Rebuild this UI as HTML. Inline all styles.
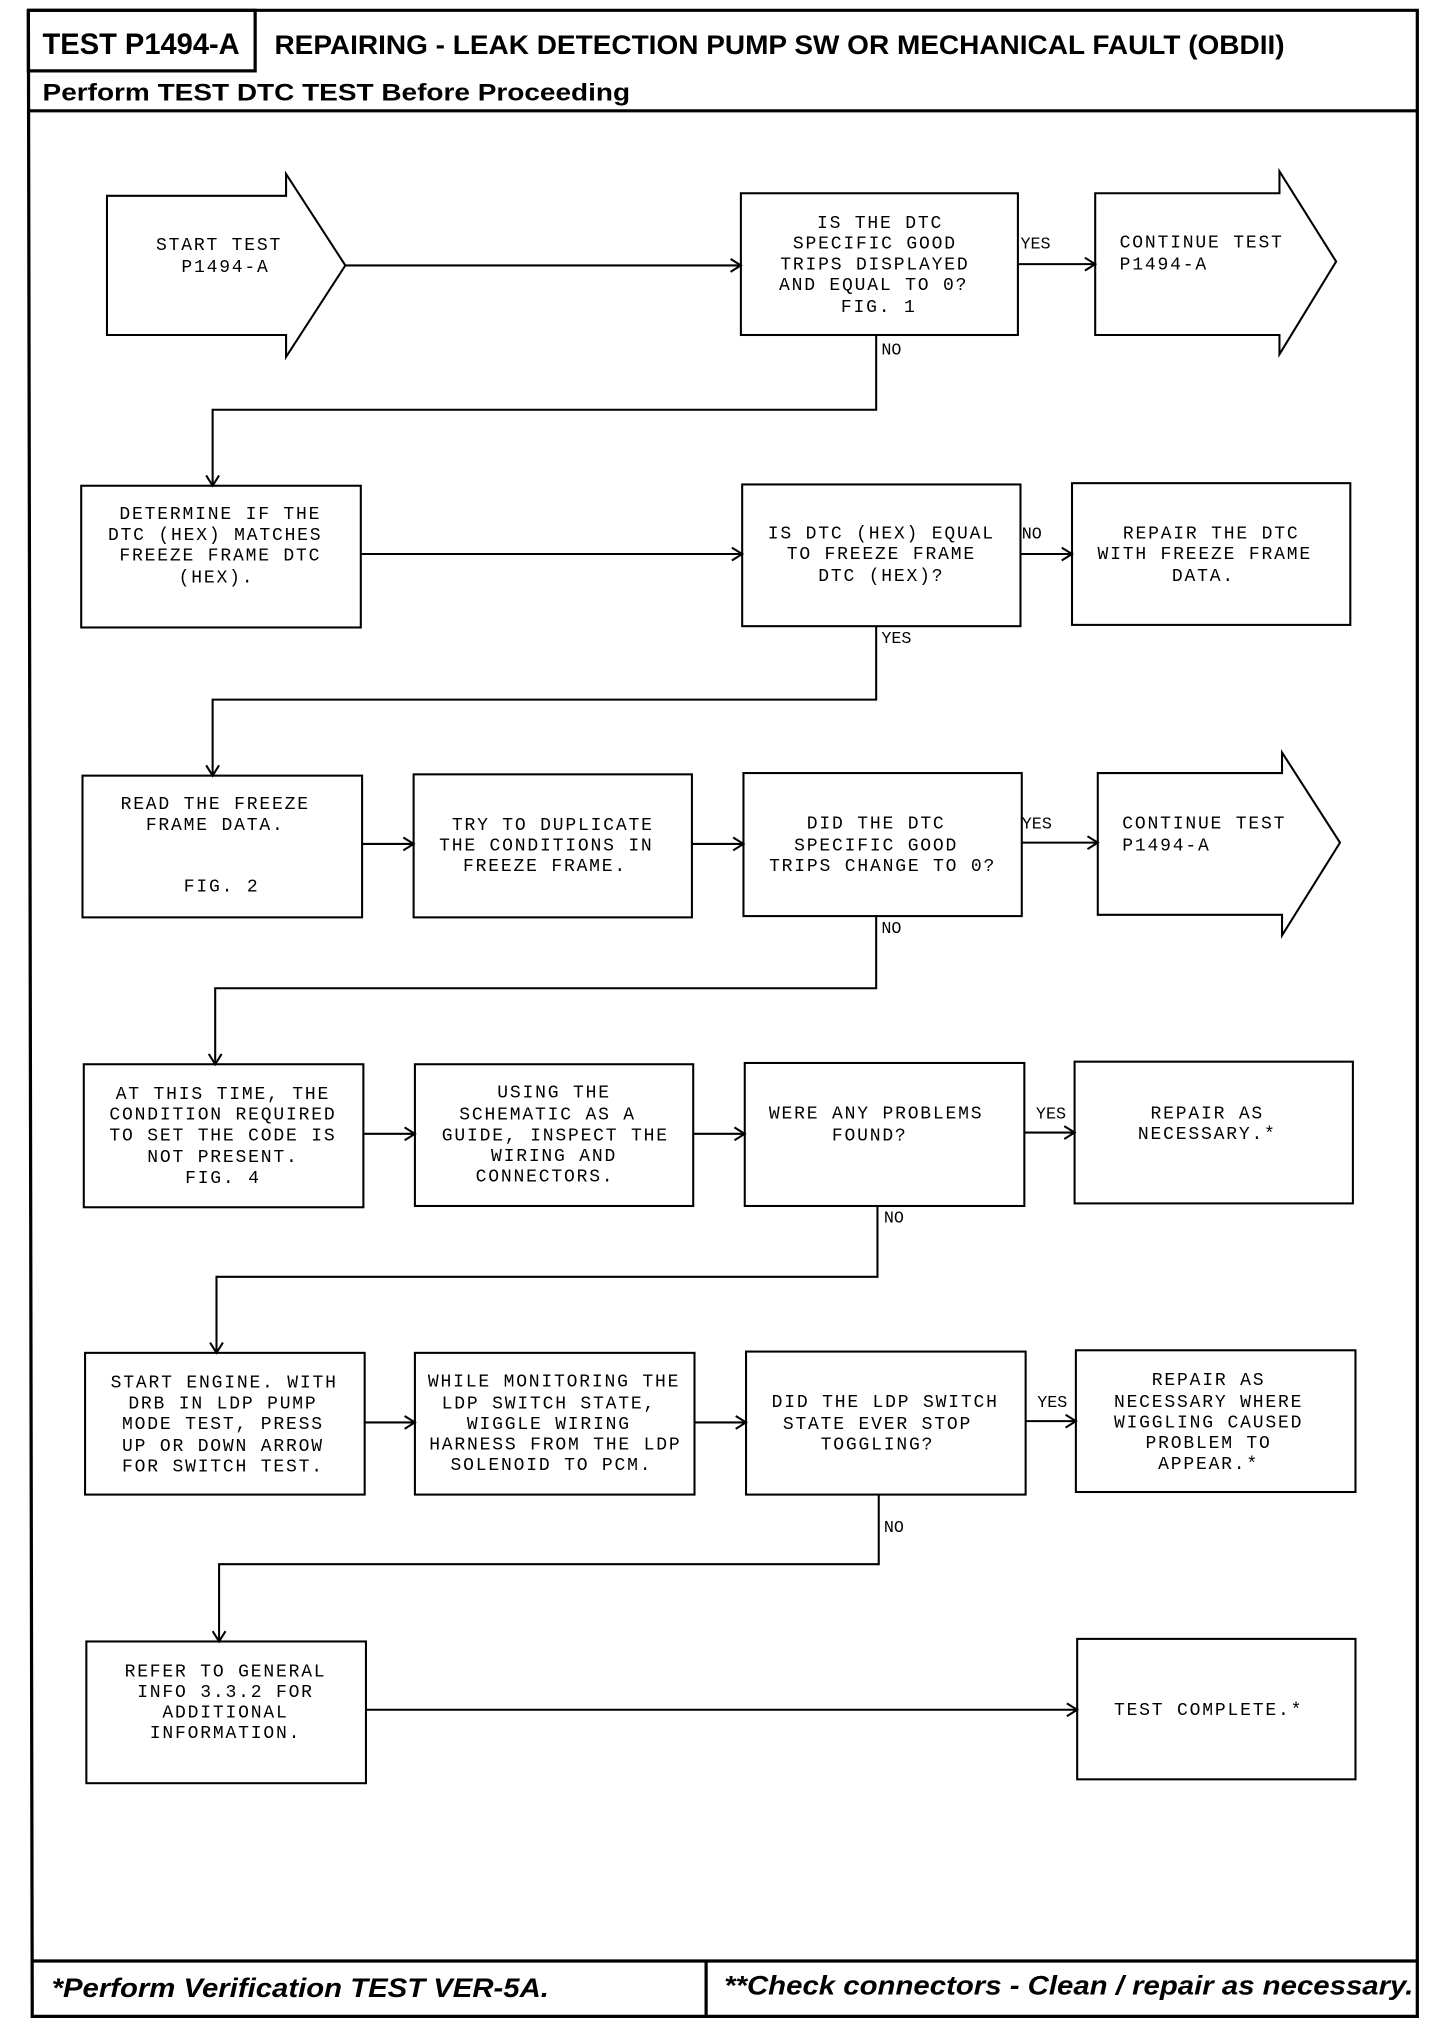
<!DOCTYPE html>
<html><head><meta charset="utf-8"><style>
html,body{margin:0;padding:0;background:#fff;}
svg{display:block;}
.m{font-family:"Liberation Mono",monospace;font-size:14px;fill:#000;letter-spacing:1.4px;}
.l{font-family:"Liberation Mono",monospace;font-size:13px;fill:#000;}
.b{fill:#fff;stroke:#000;stroke-width:1.6;}
.ln{fill:none;stroke:#000;stroke-width:1.6;}
.h{font-family:"Liberation Sans",sans-serif;font-weight:bold;fill:#000;}
</style></head><body>
<svg width="1456" height="2028" viewBox="0 0 1130 1574" xmlns="http://www.w3.org/2000/svg">
<rect x="0" y="0" width="1130" height="1574" fill="#fff"/>
<!-- frame -->
<g class="ln" style="stroke-width:2.5">
<polyline points="22,8 1100,8 1100,1565 25,1565 22,8"/>
<rect x="22" y="8" width="176" height="47"/>
<line x1="22" y1="86" x2="1100" y2="86"/>
<line x1="25" y1="1522" x2="1100" y2="1522"/>
<line x1="548" y1="1522" x2="548" y2="1565"/>
</g>
<text class="h" x="33" y="42" font-size="23" textLength="153" lengthAdjust="spacingAndGlyphs">TEST P1494-A</text>
<text class="h" x="213" y="42" font-size="21" textLength="784" lengthAdjust="spacingAndGlyphs">REPAIRING - LEAK DETECTION PUMP SW OR MECHANICAL FAULT (OBDII)</text>
<text class="h" x="33" y="78" font-size="19" textLength="456" lengthAdjust="spacingAndGlyphs">Perform TEST DTC TEST Before Proceeding</text>
<text class="h" x="40" y="1550" font-size="21" font-style="italic" textLength="386" lengthAdjust="spacingAndGlyphs">*Perform Verification TEST VER-5A.</text>
<text class="h" x="562" y="1548" font-size="21" font-style="italic" textLength="535" lengthAdjust="spacingAndGlyphs">**Check connectors - Clean / repair as necessary.</text>

<!-- big arrows -->
<polygon class="b" points="83,152 222,152 222,135 268,206 222,277 222,260 83,260"/>
<polygon class="b" points="850,150 993,150 993,133 1037,203 993,275 993,260 850,260"/>
<polygon class="b" points="852,600 995,600 995,584 1040,654 995,726 995,710 852,710"/>

<!-- boxes -->
<rect class="b" x="575" y="150" width="215" height="110"/>
<rect class="b" x="63" y="377" width="217" height="110"/>
<rect class="b" x="576" y="376" width="216" height="110"/>
<rect class="b" x="832" y="375" width="216" height="110"/>
<rect class="b" x="64" y="602" width="217" height="110"/>
<rect class="b" x="321" y="601" width="216" height="111"/>
<rect class="b" x="577" y="600" width="216" height="111"/>
<rect class="b" x="65" y="826" width="217" height="111"/>
<rect class="b" x="322" y="826" width="216" height="110"/>
<rect class="b" x="578" y="825" width="217" height="111"/>
<rect class="b" x="834" y="824" width="216" height="110"/>
<rect class="b" x="66" y="1050" width="217" height="110"/>
<rect class="b" x="322" y="1050" width="217" height="110"/>
<rect class="b" x="579" y="1049" width="217" height="111"/>
<rect class="b" x="835" y="1048" width="217" height="110"/>
<rect class="b" x="67" y="1274" width="217" height="110"/>
<rect class="b" x="836" y="1272" width="216" height="109"/>

<!-- connectors -->
<g class="ln">
<line x1="268" y1="206" x2="575" y2="206"/><polyline points="567,201 575,206 567,211"/>
<line x1="790" y1="205" x2="850" y2="205"/><polyline points="842,200 850,205 842,210"/>
<polyline points="680,260 680,318 165,318 165,377"/><polyline points="160,369 165,377 170,369"/>
<line x1="280" y1="430" x2="576" y2="430"/><polyline points="568,425 576,430 568,435"/>
<line x1="792" y1="430" x2="832" y2="430"/><polyline points="824,425 832,430 824,435"/>
<polyline points="680,486 680,543 165,543 165,602"/><polyline points="160,594 165,602 170,594"/>
<line x1="281" y1="655" x2="321" y2="655"/><polyline points="313,650 321,655 313,660"/>
<line x1="537" y1="655" x2="577" y2="655"/><polyline points="569,650 577,655 569,660"/>
<line x1="793" y1="654" x2="852" y2="654"/><polyline points="844,649 852,654 844,659"/>
<polyline points="680,711 680,767 167,767 167,826"/><polyline points="162,818 167,826 172,818"/>
<line x1="282" y1="880" x2="322" y2="880"/><polyline points="314,875 322,880 314,885"/>
<line x1="538" y1="880" x2="578" y2="880"/><polyline points="570,875 578,880 570,885"/>
<line x1="795" y1="879" x2="834" y2="879"/><polyline points="826,874 834,879 826,884"/>
<polyline points="681,936 681,991 168,991 168,1050"/><polyline points="163,1042 168,1050 173,1042"/>
<line x1="283" y1="1104" x2="322" y2="1104"/><polyline points="314,1099 322,1104 314,1109"/>
<line x1="539" y1="1104" x2="579" y2="1104"/><polyline points="571,1099 579,1104 571,1109"/>
<line x1="796" y1="1103" x2="835" y2="1103"/><polyline points="827,1098 835,1103 827,1108"/>
<polyline points="682,1160 682,1214 170,1214 170,1274"/><polyline points="165,1266 170,1274 175,1266"/>
<line x1="284" y1="1327" x2="836" y2="1327"/><polyline points="828,1322 836,1327 828,1332"/>
</g>

<!-- labels -->
<g class="l">
<text x="792" y="193">YES</text>
<text x="684" y="275">NO</text>
<text x="793" y="418">NO</text>
<text x="684" y="499">YES</text>
<text x="793" y="643">YES</text>
<text x="684" y="724">NO</text>
<text x="804" y="868">YES</text>
<text x="686" y="949">NO</text>
<text x="805" y="1092">YES</text>
<text x="686" y="1189">NO</text>
</g>

<!-- box texts -->
<g class="m" text-anchor="middle">
<text x="170" y="194">START TEST</text><text x="175" y="211">P1494-A</text>
<text x="683" y="177">IS THE DTC</text><text x="679" y="193">SPECIFIC GOOD</text><text x="679" y="209">TRIPS DISPLAYED</text><text x="678" y="225">AND EQUAL TO 0?</text><text x="682" y="242">FIG. 1</text>
<text x="171" y="403">DETERMINE IF THE</text><text x="167" y="419">DTC (HEX) MATCHES</text><text x="171" y="435">FREEZE FRAME DTC</text><text x="168" y="452">(HEX).</text>
<text x="684" y="418">IS DTC (HEX) EQUAL</text><text x="684" y="434">TO FREEZE FRAME</text><text x="684" y="451">DTC (HEX)?</text>
<text x="940" y="418">REPAIR THE DTC</text><text x="935" y="434">WITH FREEZE FRAME</text><text x="934" y="451">DATA.</text>
<text x="167" y="628">READ THE FREEZE</text><text x="167" y="644">FRAME DATA.</text><text x="172" y="692">FIG. 2</text>
<text x="429" y="644">TRY TO DUPLICATE</text><text x="424" y="660">THE CONDITIONS IN</text><text x="423" y="676">FREEZE FRAME.</text>
<text x="680" y="643">DID THE DTC</text><text x="680" y="660">SPECIFIC GOOD</text><text x="685" y="676">TRIPS CHANGE TO 0?</text>
<text x="173" y="853">AT THIS TIME, THE</text><text x="173" y="869">CONDITION REQUIRED</text><text x="173" y="885">TO SET THE CODE IS</text><text x="173" y="902">NOT PRESENT.</text><text x="173" y="918">FIG. 4</text>
<text x="430" y="852">USING THE</text><text x="425" y="869">SCHEMATIC AS A</text><text x="431" y="885">GUIDE, INSPECT THE</text><text x="430" y="901">WIRING AND</text><text x="423" y="917">CONNECTORS.</text>
<text x="680" y="868">WERE ANY PROBLEMS</text><text x="675" y="885">FOUND?</text>
<text x="937" y="868">REPAIR AS</text><text x="937" y="884">NECESSARY.*</text>
<text x="174" y="1077">START ENGINE. WITH</text><text x="173" y="1093">DRB IN LDP PUMP</text><text x="173" y="1109">MODE TEST, PRESS</text><text x="173" y="1126">UP OR DOWN ARROW</text><text x="173" y="1142">FOR SWITCH TEST.</text>
<text x="430" y="1076">WHILE MONITORING THE</text><text x="426" y="1093">LDP SWITCH STATE,</text><text x="426" y="1109">WIGGLE WIRING</text><text x="431" y="1125">HARNESS FROM THE LDP</text><text x="428" y="1141">SOLENOID TO PCM.</text>
<text x="687" y="1092">DID THE LDP SWITCH</text><text x="681" y="1109">STATE EVER STOP</text><text x="681" y="1125">TOGGLING?</text>
<text x="938" y="1075">REPAIR AS</text><text x="938" y="1092">NECESSARY WHERE</text><text x="938" y="1108">WIGGLING CAUSED</text><text x="938" y="1124">PROBLEM TO</text><text x="938" y="1140">APPEAR.*</text>
<text x="175" y="1301">REFER TO GENERAL</text><text x="175" y="1317">INFO 3.3.2 FOR</text><text x="175" y="1333">ADDITIONAL</text><text x="175" y="1349">INFORMATION.</text>
<text x="938" y="1331">TEST COMPLETE.*</text>
</g>
<g class="m">
<text x="869" y="192">CONTINUE TEST</text><text x="869" y="209">P1494-A</text>
<text x="871" y="643">CONTINUE TEST</text><text x="871" y="660">P1494-A</text>
</g>
</svg>
</body></html>
